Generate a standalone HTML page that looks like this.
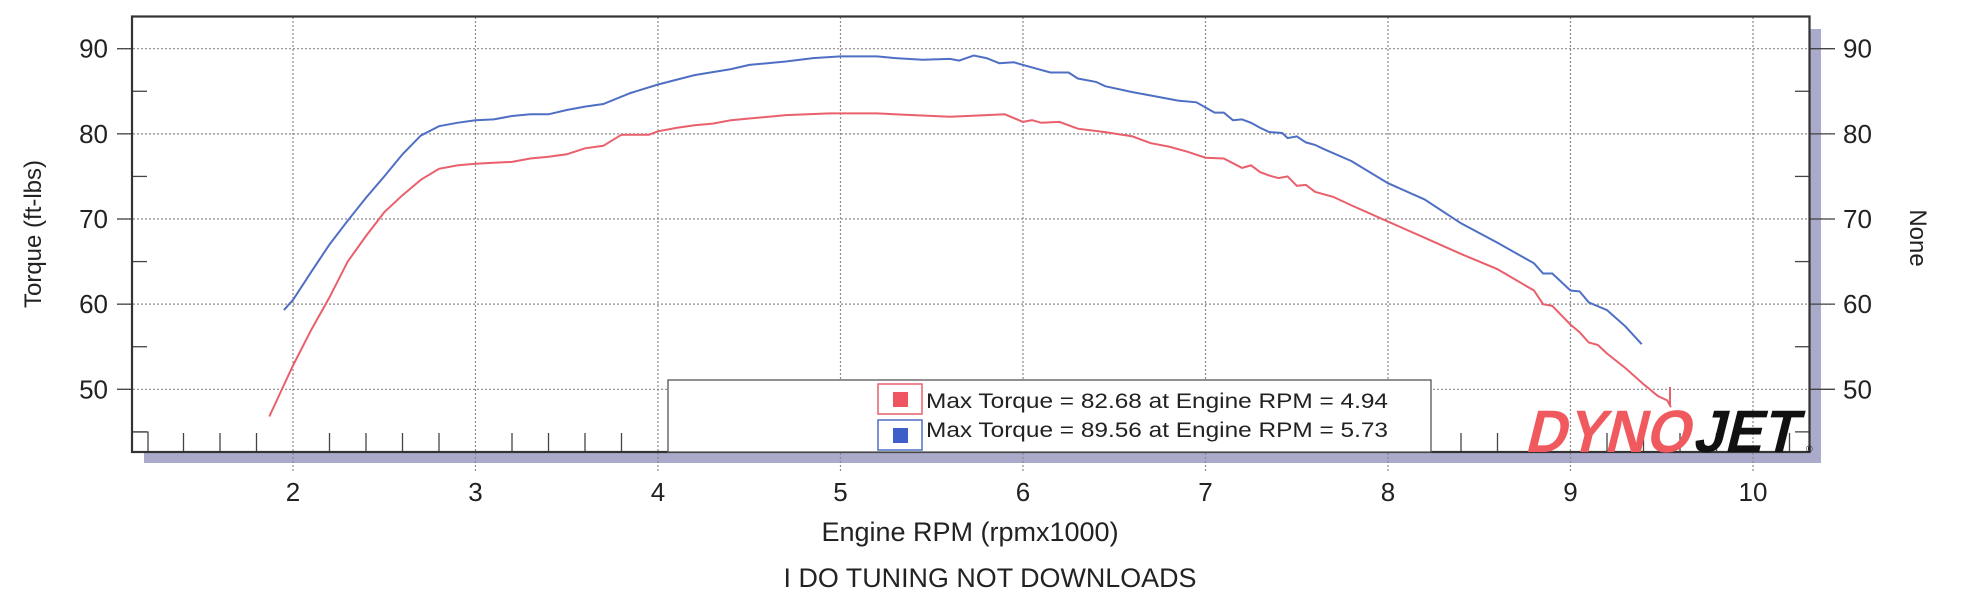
<!DOCTYPE html>
<html><head><meta charset="utf-8"><style>
html,body{margin:0;padding:0;background:#fff;width:1964px;height:600px;overflow:hidden}
svg text{font-family:"Liberation Sans",sans-serif;fill:#222}
</style></head><body>
<svg id="s" width="1964" height="600" viewBox="0 0 1964 600" xmlns="http://www.w3.org/2000/svg">
<rect x="0" y="0" width="1964" height="600" fill="#fff"/>
<rect x="144" y="452" width="1677" height="11" fill="#aaaacb"/>
<rect x="1809" y="29" width="12" height="434" fill="#aaaacb"/>
<g id="grid" stroke="#8a8a8a" stroke-width="1.2" stroke-dasharray="2,2" fill="none"></g>
<g id="ticks" stroke="#444" stroke-width="1.3" fill="none"></g>
<path id="red" fill="none" stroke="#e9606c" stroke-width="2"/>
<path id="blue" fill="none" stroke="#4e6fc4" stroke-width="2"/>
<path d="M1670,387 L1670,405" stroke="#e9606c" stroke-width="2"/>
<rect x="132" y="16.5" width="1677.5" height="435.5" fill="none" stroke="#333" stroke-width="2.2"/>
<rect x="668" y="380" width="763" height="72" fill="#fff" stroke="#555" stroke-width="1.3"/>
<rect x="878" y="384" width="44" height="30" fill="#fff" stroke="#e9606c" stroke-width="1.5"/>
<rect x="893" y="392" width="15" height="15" fill="#ee5560"/>
<rect x="878" y="420" width="44" height="30" fill="#fff" stroke="#4e6fc4" stroke-width="1.5"/>
<rect x="893" y="428" width="15" height="15" fill="#3f5fc8"/>
<text x="926" y="408" font-size="21" textLength="462" lengthAdjust="spacingAndGlyphs">Max Torque = 82.68 at Engine RPM = 4.94</text>
<text x="926" y="437" font-size="21" textLength="462" lengthAdjust="spacingAndGlyphs">Max Torque = 89.56 at Engine RPM = 5.73</text>
<g transform="translate(1512,452) skewX(-14)">
<text x="12" y="0" font-size="60" font-weight="bold" style="fill:#f05a5e" textLength="165" lengthAdjust="spacingAndGlyphs">DYNO</text>
<text x="180" y="0" font-size="60" font-weight="bold" style="fill:#111" textLength="104" lengthAdjust="spacingAndGlyphs">JET</text>
</g>
<text x="1806" y="452" font-size="9" style="fill:#111">®</text>
<g id="labels" font-size="26"></g>
<text transform="translate(41,234) rotate(-90)" text-anchor="middle" font-size="24">Torque (ft-lbs)</text>
<text transform="translate(1910,238) rotate(90)" text-anchor="middle" font-size="24">None</text>
<text x="970" y="541" text-anchor="middle" font-size="27">Engine RPM (rpmx1000)</text>
<text x="990" y="587" text-anchor="middle" font-size="27" textLength="413" lengthAdjust="spacingAndGlyphs">I  DO TUNING NOT DOWNLOADS</text>
</svg>
<script>
const X=r=>293+(r-2)*182.5, Y=v=>48.7+(90-v)*8.515;
const ns="http://www.w3.org/2000/svg";
function el(p,t,a,txt){const e=document.createElementNS(ns,t);for(const k in a)e.setAttribute(k,a[k]);if(txt!==undefined)e.textContent=txt;document.getElementById(p).appendChild(e);return e;}
for(let v=50;v<=90;v+=10){el("grid","line",{x1:117,x2:1835,y1:Y(v),y2:Y(v)});
 el("labels","text",{x:108,y:Y(v)+9,"text-anchor":"end"},v);
 el("labels","text",{x:1843,y:Y(v)+9},v);
 el("ticks","line",{x1:117,x2:132,y1:Y(v),y2:Y(v)});el("ticks","line",{x1:1809,x2:1835,y1:Y(v),y2:Y(v)});}
for(let v=45;v<=85;v+=10){el("ticks","line",{x1:132,x2:147,y1:Y(v),y2:Y(v)});el("ticks","line",{x1:1795,x2:1809,y1:Y(v),y2:Y(v)});}
for(let r=2;r<=10;r++){el("grid","line",{x1:X(r),x2:X(r),y1:17,y2:472});el("labels","text",{x:X(r),y:501,"text-anchor":"middle"},r);}
for(let i=7;i<=51;i++){if(i%5==0)continue;const x=X(i*0.2);if(x>668&&x<1431)continue;el("ticks","line",{x1:x,x2:x,y1:433,y2:452});}
el("ticks","path",{d:"M132,432 L148,432 L148,452"});
const blue=[[1.95,59.3],[2.0,60.5],[2.1,63.8],[2.2,67],[2.3,69.8],[2.4,72.5],[2.5,75],[2.6,77.6],[2.7,79.8],[2.8,80.9],[2.9,81.3],[3.0,81.6],[3.1,81.7],[3.2,82.1],[3.3,82.3],[3.4,82.3],[3.5,82.8],[3.6,83.2],[3.7,83.5],[3.85,84.8],[4.0,85.8],[4.2,86.9],[4.4,87.6],[4.5,88.1],[4.7,88.5],[4.85,88.9],[5.0,89.1],[5.2,89.1],[5.3,88.9],[5.45,88.7],[5.6,88.8],[5.65,88.6],[5.73,89.2],[5.8,88.9],[5.87,88.3],[5.95,88.4],[6.0,88.1],[6.15,87.2],[6.25,87.2],[6.3,86.5],[6.4,86.1],[6.45,85.6],[6.6,84.9],[6.7,84.5],[6.85,83.9],[6.95,83.7],[7.05,82.5],[7.1,82.5],[7.15,81.6],[7.2,81.7],[7.25,81.3],[7.3,80.7],[7.35,80.2],[7.42,80.1],[7.45,79.5],[7.5,79.7],[7.55,79.0],[7.6,78.7],[7.65,78.2],[7.8,76.8],[8.0,74.2],[8.2,72.3],[8.4,69.5],[8.6,67.2],[8.8,64.8],[8.85,63.6],[8.9,63.6],[9.0,61.6],[9.05,61.5],[9.1,60.2],[9.2,59.3],[9.3,57.4],[9.39,55.3]];
const red=[[1.87,46.8],[1.95,50.5],[2.0,52.8],[2.1,57],[2.2,60.8],[2.3,65],[2.4,68],[2.5,70.8],[2.6,72.8],[2.7,74.6],[2.8,75.9],[2.9,76.3],[3.0,76.5],[3.1,76.6],[3.2,76.7],[3.3,77.1],[3.4,77.3],[3.5,77.6],[3.6,78.3],[3.7,78.6],[3.8,79.9],[3.95,79.9],[4.0,80.3],[4.1,80.7],[4.2,81.0],[4.3,81.2],[4.4,81.6],[4.5,81.8],[4.7,82.2],[4.94,82.4],[5.2,82.4],[5.4,82.2],[5.6,82.0],[5.8,82.2],[5.9,82.3],[6.0,81.4],[6.05,81.6],[6.1,81.3],[6.2,81.4],[6.3,80.6],[6.45,80.2],[6.6,79.7],[6.7,78.9],[6.8,78.5],[6.9,77.9],[7.0,77.2],[7.1,77.1],[7.2,76.0],[7.25,76.3],[7.3,75.5],[7.35,75.1],[7.4,74.8],[7.45,75.0],[7.5,73.9],[7.55,74.0],[7.6,73.2],[7.7,72.6],[7.8,71.6],[8.0,69.7],[8.2,67.8],[8.4,65.9],[8.6,64.1],[8.8,61.6],[8.85,60.0],[8.9,59.8],[9.0,57.6],[9.05,56.7],[9.1,55.5],[9.15,55.2],[9.2,54.2],[9.3,52.5],[9.4,50.6],[9.48,49.2],[9.53,48.7],[9.55,47.9]];
const pd=a=>a.map((p,i)=>(i?"L":"M")+X(p[0]).toFixed(1)+","+Y(p[1]).toFixed(1)).join(" ");
document.getElementById("blue").setAttribute("d",pd(blue));
document.getElementById("red").setAttribute("d",pd(red));
</script>
</body></html>
